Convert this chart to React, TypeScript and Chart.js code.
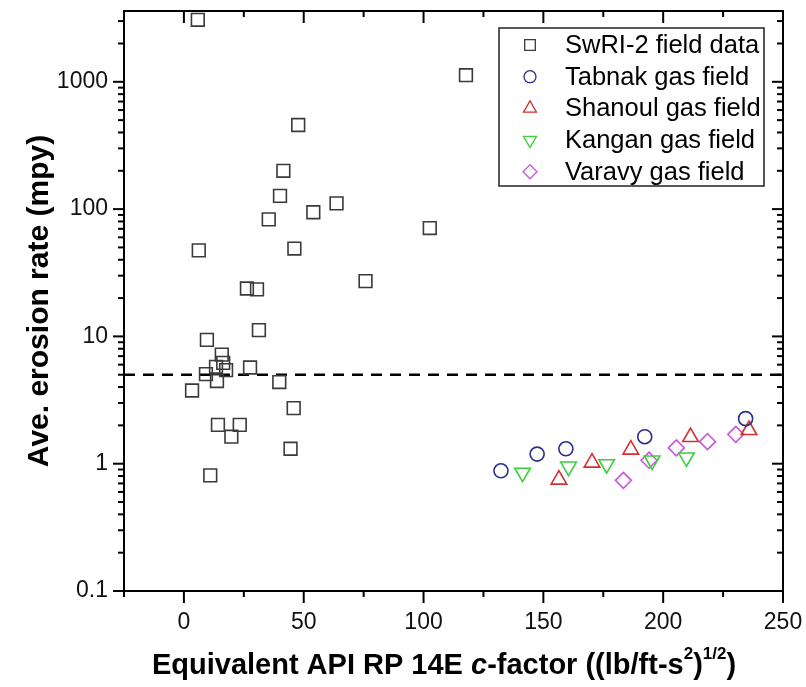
import React, { useEffect, useRef } from 'react';
import { Chart, registerables } from 'chart.js';

Chart.register(...registerables);

// ---------------- data ----------------
const seriesNames = [
  'SwRI-2 field data',
  'Tabnak gas field',
  'Shanoul gas field',
  'Kangan gas field',
  'Varavy gas field',
];

const swriX = [5.8, 117.7, 47.7, 41.5, 40.1, 63.7, 54.0, 35.4, 102.6, 6.2, 46.1, 75.8, 26.3, 30.5, 31.3, 9.6, 15.8, 16.4, 13.4, 17.6, 9.2, 13.8, 27.6, 39.8, 3.4, 45.8, 14.2, 23.3, 19.8, 44.5, 11.0];
const swriY = [3070, 1127, 458, 200, 127, 111, 94.5, 83, 71, 47.4, 49, 27.2, 23.8, 23.4, 11.2, 9.4, 7.2, 6.2, 5.77, 5.43, 5.06, 4.46, 5.7, 4.38, 3.76, 2.73, 2.02, 2.02, 1.63, 1.31, 0.81];

const tabnakX = [132.3, 147.4, 159.4, 192.3, 234.4];
const tabnakY = [0.88, 1.19, 1.31, 1.63, 2.26];

const shanoulX = [156.5, 170.3, 186.5, 211.4, 235.8];
const shanoulY = [0.75, 1.02, 1.29, 1.62, 1.84];

const kanganX = [141.3, 160.5, 176.4, 195.4, 209.7];
const kanganY = [0.85, 0.95, 0.99, 1.06, 1.12];

const varavyX = [183.4, 194.1, 205.5, 218.5, 230.3];
const varavyY = [0.74, 1.065, 1.33, 1.49, 1.70];

const thresholdY = 5;
const xMin = -25;
const xMax = 250;
const yMin = 0.1;
const yMax = 3600;

const xTickLabels = [0, 50, 100, 150, 200, 250];
const yTickLabels = [0.1, 1, 10, 100, 1000];

const colors = ['#3a3a3a', '#2d2d8f', '#d23030', '#3ccf3c', '#cc55dd'];

const FONT = '"Liberation Sans", Arial, Helvetica, sans-serif';

const toPoints = (xs: number[], ys: number[]) => xs.map((x, i) => ({ x, y: ys[i] }));

// ---------------- helpers ----------------
function drawMarker(ctx: CanvasRenderingContext2D, kind: string, x: number, y: number, r: number) {
  ctx.beginPath();
  if (kind === 'rect') {
    const s = r * Math.SQRT1_2;
    ctx.rect(x - s, y - s, 2 * s, 2 * s);
  } else if (kind === 'circle') {
    ctx.arc(x, y, r, 0, Math.PI * 2);
  } else if (kind === 'up' || kind === 'down') {
    const off = kind === 'up' ? 0 : Math.PI;
    for (let k = 0; k < 3; k++) {
      const a = off + k * (2 * Math.PI / 3);
      const px = x + Math.sin(a) * r;
      const py = y - Math.cos(a) * r;
      if (k === 0) ctx.moveTo(px, py); else ctx.lineTo(px, py);
    }
    ctx.closePath();
  } else if (kind === 'diamond') {
    ctx.moveTo(x, y - r);
    ctx.lineTo(x + r, y);
    ctx.lineTo(x, y + r);
    ctx.lineTo(x - r, y);
    ctx.closePath();
  }
  ctx.stroke();
}

const legendKinds = ['rect', 'circle', 'up', 'down', 'diamond'];
const legendSizes = [7.5, 6, 7.5, 7.5, 7];

const decorPlugin = {
  id: 'decor',
  afterDraw(chart: any) {
    const { ctx, chartArea: ca, scales } = chart;
    const xs = scales.x;
    const ys = scales.y;
    ctx.save();
    ctx.strokeStyle = '#000';
    ctx.lineWidth = 2;
    ctx.strokeRect(ca.left, ca.top, ca.right - ca.left, ca.bottom - ca.top);

    const seg = (x1: number, y1: number, x2: number, y2: number) => {
      ctx.beginPath();
      ctx.moveTo(x1, y1);
      ctx.lineTo(x2, y2);
      ctx.stroke();
    };

    // x ticks (major at labelled values, minor half-way)
    for (let v = xMin; v <= xMax; v += 25) {
      const px = xs.getPixelForValue(v);
      const major = xTickLabels.includes(v);
      const len = major ? 12 : 6;
      seg(px, ca.bottom, px, ca.bottom + len);
      seg(px, ca.top, px, ca.top + len);
    }
    // y ticks
    for (let d = -1; d <= 3; d++) {
      for (let m = 1; m <= 9; m++) {
        const v = m * Math.pow(10, d);
        if (v < yMin - 1e-9 || v > yMax) continue;
        const py = ys.getPixelForValue(v);
        const len = m === 1 ? 11 : 6;
        seg(ca.left - len, py, ca.left, py);
        seg(ca.right - len, py, ca.right, py);
      }
    }

    // legend
    const lx = 499, ly = 28, lw = 265, lh = 158;
    ctx.fillStyle = '#fff';
    ctx.fillRect(lx, ly, lw, lh);
    ctx.lineWidth = 1.5;
    ctx.strokeStyle = '#222';
    ctx.strokeRect(lx, ly, lw, lh);
    ctx.font = `25.5px ${FONT}`;
    ctx.textBaseline = 'middle';
    ctx.textAlign = 'left';
    for (let i = 0; i < seriesNames.length; i++) {
      const cy = 45 + i * 31.7;
      ctx.strokeStyle = colors[i];
      ctx.lineWidth = 1.3;
      drawMarker(ctx, legendKinds[i], 530, cy, legendSizes[i]);
      ctx.fillStyle = '#000';
      ctx.fillText(seriesNames[i], 565, cy + 1);
    }

    // y axis title
    ctx.save();
    ctx.translate(40, (ca.top + ca.bottom) / 2);
    ctx.rotate(-Math.PI / 2);
    ctx.font = `bold 30px ${FONT}`;
    ctx.textAlign = 'center';
    ctx.textBaseline = 'middle';
    ctx.fillStyle = '#000';
    ctx.fillText('Ave. erosion rate (mpy)', 0, 0);
    ctx.restore();

    // x axis title with italic c and superscripts
    const base = `bold 29px ${FONT}`;
    const ital = `italic bold 29px ${FONT}`;
    const sup = `bold 17px ${FONT}`;
    const parts: [string, string, number][] = [
      ['Equivalent API RP 14E ', base, 0],
      ['c', ital, 0],
      ['-factor ((lb/ft-s', base, 0],
      ['2', sup, -12],
      [')', base, 0],
      ['1/2', sup, -12],
      [')', base, 0],
    ];
    let total = 0;
    for (const [t, f] of parts) {
      ctx.font = f;
      total += ctx.measureText(t).width;
    }
    let cx = 444 - total / 2;
    const ty = 666;
    ctx.textAlign = 'left';
    ctx.textBaseline = 'middle';
    ctx.fillStyle = '#000';
    for (const [t, f, dy] of parts) {
      ctx.font = f;
      ctx.fillText(t, cx, ty + dy);
      cx += ctx.measureText(t).width;
    }
    ctx.restore();
  },
};

export default function App() {
  const canvasRef = useRef<HTMLCanvasElement | null>(null);

  useEffect(() => {
    document.body.style.margin = '0';
    const canvas = canvasRef.current;
    if (!canvas) return;

    const mk = (i: number, data: any[], pointStyle: string, radius: number, rotation = 0) => ({
      label: seriesNames[i],
      data,
      pointStyle,
      pointRadius: radius,
      pointRotation: rotation,
      pointBorderWidth: 1.6,
      borderColor: colors[i],
      backgroundColor: 'rgba(0,0,0,0)',
      pointBackgroundColor: 'rgba(0,0,0,0)',
      showLine: false,
    });

    const zeroPad = (s: any) => {
      s.paddingLeft = 0;
      s.paddingRight = 0;
      s.paddingTop = 0;
      s.paddingBottom = 0;
    };

    const chart = new Chart(canvas, {
      type: 'scatter',
      data: {
        datasets: [
          mk(0, toPoints(swriX, swriY), 'rect', 9),
          mk(1, toPoints(tabnakX, tabnakY), 'circle', 7),
          mk(2, toPoints(shanoulX, shanoulY), 'triangle', 9),
          mk(3, toPoints(kanganX, kanganY), 'triangle', 9, 180),
          mk(4, toPoints(varavyX, varavyY), 'rectRot', 8),
          {
            type: 'line',
            label: 'threshold',
            data: [
              { x: xMin, y: thresholdY },
              { x: xMax, y: thresholdY },
            ],
            borderColor: '#000',
            borderWidth: 2.6,
            borderDash: [11, 8],
            pointRadius: 0,
            showLine: true,
            fill: false,
          } as any,
        ],
      },
      options: {
        responsive: false,
        animation: false,
        devicePixelRatio: 1,
        layout: { padding: { top: 11, right: 23, left: 0, bottom: 0 } },
        plugins: {
          legend: { display: false },
          tooltip: { enabled: false },
        },
        scales: {
          x: {
            type: 'linear',
            min: xMin,
            max: xMax,
            grid: { display: false, drawTicks: false },
            border: { display: false },
            ticks: {
              stepSize: 50,
              includeBounds: false,
              autoSkip: false,
              maxRotation: 0,
              padding: 18,
              color: '#111',
              font: { family: FONT, size: 23 },
              callback: (v: any) => (xTickLabels.includes(Number(v)) ? String(v) : ''),
            },
            afterFit: (s: any) => {
              s.height = 96;
              zeroPad(s);
            },
          },
          y: {
            type: 'logarithmic',
            min: yMin,
            max: yMax,
            grid: { display: false, drawTicks: false },
            border: { display: false },
            ticks: {
              autoSkip: false,
              padding: 16,
              color: '#111',
              font: { family: FONT, size: 23 },
              callback: (v: any) => {
                const n = Number(v);
                const hit = yTickLabels.find((L) => Math.abs(Math.log10(n) - Math.log10(L)) < 1e-6);
                return hit !== undefined ? String(hit) : '';
              },
            },
            afterFit: (s: any) => {
              s.width = 124;
              zeroPad(s);
            },
          },
        },
      },
      plugins: [decorPlugin],
    } as any);

    return () => chart.destroy();
  }, []);

  return (
    <div style={{ width: 806, height: 687 }}>
      <canvas ref={canvasRef} width={806} height={687} style={{ display: 'block' }} />
    </div>
  );
}
